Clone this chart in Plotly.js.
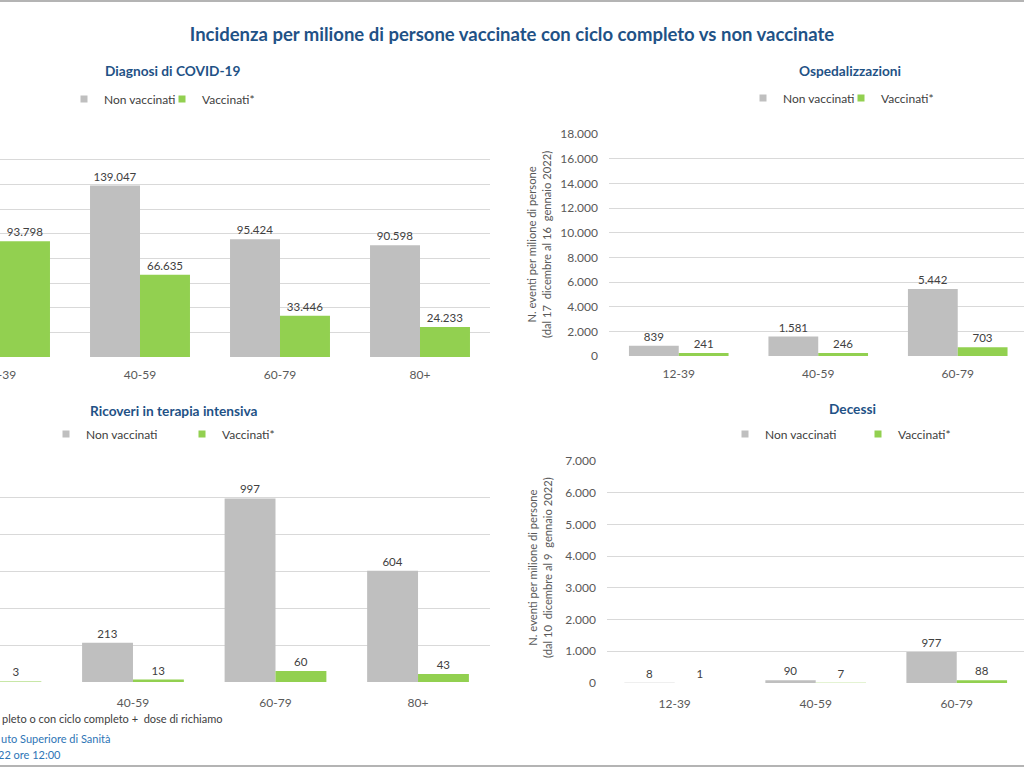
<!DOCTYPE html>
<html>
<head>
<meta charset="utf-8">
<script src="https://cdn.plot.ly/plotly-3.0.1.min.js"></script>
<style>
  html, body { margin: 0; padding: 0; background: #ffffff; overflow: hidden; }
  #chart { width: 1024px; height: 768px; }
</style>
</head>
<body>
<div id="chart"></div>
<script>
// ---------------- DATA ----------------
const categories = ['12-39', '40-59', '60-79', '80+'];
const seriesNames = ['Non vaccinati', 'Vaccinati*'];

// Diagnosi di COVID-19 (values not visible in the cropped picture are null)
const diagNonVacc = [null, 139047, 95424, 90598];
const diagVacc    = [93798, 66635, 33446, 24233];

// Ospedalizzazioni
const hospNonVacc = [839, 1581, 5442, null];
const hospVacc    = [241, 246, 703, null];

// Ricoveri in terapia intensiva
const icuNonVacc  = [null, 213, 997, 604];
const icuVacc     = [3, 13, 60, 43];

// Decessi
const deathNonVacc = [8, 90, 977, null];
const deathVacc    = [1, 7, 88, null];

const panelTitles = ['Diagnosi di COVID-19', 'Ospedalizzazioni', 'Ricoveri in terapia intensiva', 'Decessi'];
const mainTitle = 'Incidenza per milione di persone vaccinate con ciclo completo vs non vaccinate';
const yTitleHosp  = 'N. eventi per milione di persone<br>(dal 17  dicembre al 16  gennaio 2022)';
const yTitleDeath = 'N. eventi per milione di persone<br>(dal 10  dicembre al 9  gennaio 2022)';
const footLines = ['pleto o con ciclo completo +  dose di richiamo', 'uto Superiore di Sanità', '22 ore 12:00'];

// ---------------- STYLE ----------------
const GREY = '#bfbfbf';
const GREEN = '#92d050';
const TITLE_BLUE = '#1f5286';
const LABEL = '#404040';
const TICK = '#595959';
const GRID = '#d9d9d9';
const FONT = 'Lato, "Open Sans", "DejaVu Sans", sans-serif';

const W = 1024, H = 768;
const px = x => x / W;
const py = y => 1 - y / H;

function barTrace(vals, name, color, xa, ya) {
  return {
    type: 'bar', x: categories, y: vals, name: name,
    xaxis: xa, yaxis: ya, showlegend: false,
    marker: { color: color, line: { width: 0 } },
    texttemplate: '%{y:,d}', textposition: 'outside', constraintext: 'none',
    textfont: { family: FONT, size: 11.5, color: LABEL },
    hoverinfo: 'x+y+name'
  };
}

function legendTrace(name, color, legendId) {
  return {
    type: 'scatter', mode: 'markers', x: [null], y: [null], name: name,
    xaxis: 'x', yaxis: 'y', legend: legendId, showlegend: true,
    marker: { symbol: 'square', size: 7, color: color }, hoverinfo: 'skip'
  };
}

const data = [
  barTrace(diagNonVacc, seriesNames[0], GREY, 'x', 'y'),
  barTrace(diagVacc, seriesNames[1], GREEN, 'x', 'y'),
  barTrace(hospNonVacc, seriesNames[0], GREY, 'x2', 'y2'),
  barTrace(hospVacc, seriesNames[1], GREEN, 'x2', 'y2'),
  barTrace(icuNonVacc, seriesNames[0], GREY, 'x3', 'y3'),
  barTrace(icuVacc, seriesNames[1], GREEN, 'x3', 'y3'),
  barTrace(deathNonVacc, seriesNames[0], GREY, 'x4', 'y4'),
  barTrace(deathVacc, seriesNames[1], GREEN, 'x4', 'y4'),
  legendTrace(seriesNames[0], GREY, 'legend'),
  legendTrace(seriesNames[1], GREEN, 'legend2'),
  legendTrace(seriesNames[0], GREY, 'legend3'),
  legendTrace(seriesNames[1], GREEN, 'legend4'),
  legendTrace(seriesNames[0], GREY, 'legend5'),
  legendTrace(seriesNames[1], GREEN, 'legend6'),
  legendTrace(seriesNames[0], GREY, 'legend7'),
  legendTrace(seriesNames[1], GREEN, 'legend8')
];

function xAxis(domain, range, anchor, standoff) {
  return {
    domain: domain, range: range, anchor: anchor, type: 'category',
    showgrid: false, zeroline: false, showline: false, ticks: '',
    ticklabelstandoff: standoff,
    tickfont: { family: FONT, size: 12, color: TICK }, fixedrange: true
  };
}
function yAxis(domain, range, dtick, anchor, showLabels) {
  return {
    domain: domain, range: range, dtick: dtick, anchor: anchor,
    showgrid: true, gridcolor: GRID, gridwidth: 1, zeroline: false, showline: false,
    ticks: '', showticklabels: showLabels, tickformat: ',d', ticklabelstandoff: 10,
    tickfont: { family: FONT, size: 12, color: TICK }, fixedrange: true
  };
}

function legendBox(textLeftPx, yPx) {
  return {
    x: px(textLeftPx - 40), y: py(yPx), xanchor: 'left', yanchor: 'middle',
    orientation: 'h', bgcolor: 'rgba(0,0,0,0)', borderwidth: 0,
    font: { family: FONT, size: 12, color: LABEL }, itemclick: false, itemdoubleclick: false
  };
}

const annotations = [];
function addTitle(text, xPx, yPx) {
  annotations.push({ text: '<b>' + text + '</b>', x: px(xPx), y: py(yPx), xref: 'paper', yref: 'paper',
    xanchor: 'center', yanchor: 'middle', showarrow: false,
    font: { family: FONT, size: 13.7, color: TITLE_BLUE } });
}
addTitle(panelTitles[0], 173, 71);
addTitle(panelTitles[1], 850, 70);
addTitle(panelTitles[2], 174, 410);
addTitle(panelTitles[3], 852, 408);

function addYTitle(text, xPx, yPx) {
  annotations.push({ text: text, x: px(xPx), y: py(yPx), xref: 'paper', yref: 'paper',
    xanchor: 'center', yanchor: 'middle', showarrow: false, textangle: -90,
    font: { family: FONT, size: 11.2, color: TICK } });
}
addYTitle(yTitleHosp, 539, 245);
addYTitle(yTitleDeath, 540, 568);

function addFoot(text, xRightPx, yPx, color) {
  annotations.push({ text: text, x: px(xRightPx), y: py(yPx), xref: 'paper', yref: 'paper',
    xanchor: 'right', yanchor: 'middle', showarrow: false,
    font: { family: FONT, size: 11, color: color } });
}
addFoot(footLines[0], 224, 718, LABEL);
addFoot(footLines[1], 113, 738, '#2e75b6');
addFoot(footLines[2], 63, 754, '#2e75b6');

const layout = {
  width: W, height: H,
  margin: { l: 0, r: 0, t: 0, b: 0, pad: 0 },
  paper_bgcolor: '#ffffff', plot_bgcolor: '#ffffff',
  font: { family: FONT, color: LABEL },
  separators: ',.',
  barmode: 'group', bargap: 0.286, bargroupgap: 0,
  title: { text: '<b>' + mainTitle + '</b>', x: 0.5, xanchor: 'center', y: py(35), yanchor: 'middle',
           xref: 'paper', yref: 'paper', font: { family: FONT, size: 18.5, color: TITLE_BLUE } },
  xaxis:  xAxis([0, px(490)], [0, 3.5], 'y', 9),
  yaxis:  yAxis([py(357), py(135)], [0, 180000], 20000, 'x', false),
  xaxis2: xAxis([px(609), 1], [-0.5, 2.475], 'y2', 9),
  yaxis2: yAxis([py(356), py(134)], [0, 18000], 2000, 'x2', true),
  xaxis3: xAxis([0, px(490)], [0.067, 3.505], 'y3', 12),
  yaxis3: yAxis([py(682), py(461)], [0, 1200], 200, 'x3', false),
  xaxis4: xAxis([px(607), 1], [-0.48, 2.477], 'y4', 12),
  yaxis4: yAxis([py(683), py(461)], [0, 7000], 1000, 'x4', true),
  legend:  legendBox(104, 99),
  legend2: legendBox(202, 99),
  legend3: legendBox(783, 98),
  legend4: legendBox(881, 98),
  legend5: legendBox(86, 434),
  legend6: legendBox(222, 434),
  legend7: legendBox(765, 434),
  legend8: legendBox(898, 434),
  annotations: annotations,
  shapes: [
    { type: 'line', xref: 'paper', yref: 'paper', x0: 0, x1: 1, y0: py(1), y1: py(1), line: { color: '#b4b4b4', width: 2 } },
    { type: 'line', xref: 'paper', yref: 'paper', x0: 0, x1: 1, y0: py(766), y1: py(766), line: { color: '#b4b4b4', width: 2 } }
  ]
};

Plotly.newPlot('chart', data, layout, { displayModeBar: false, staticPlot: true });
</script>
</body>
</html>
